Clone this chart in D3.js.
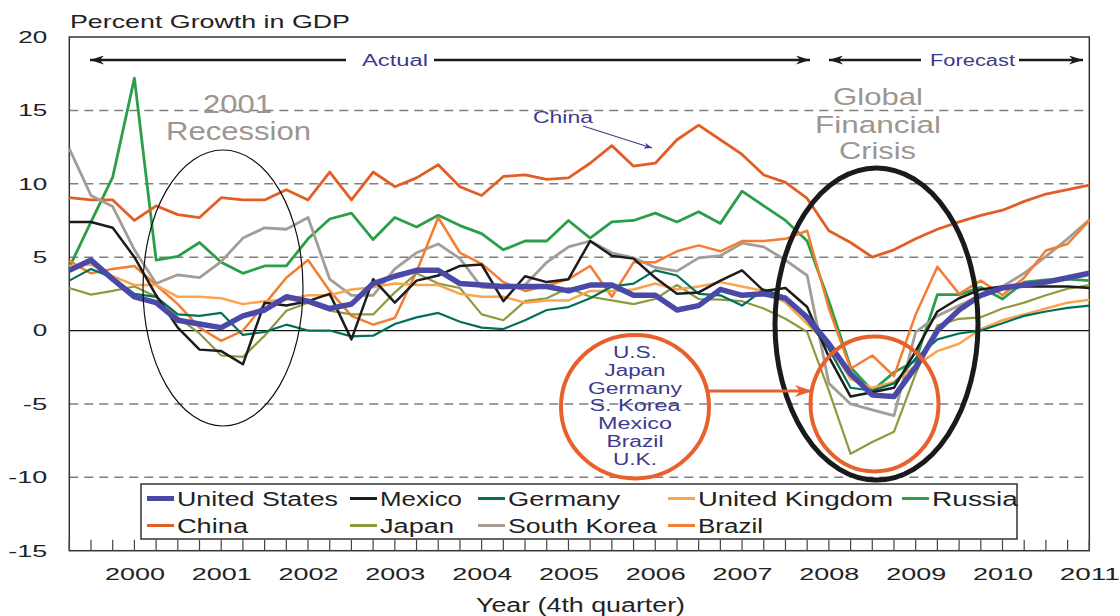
<!DOCTYPE html>
<html><head><meta charset="utf-8">
<script src="https://cdn.jsdelivr.net/npm/d3@7"></script>
<style>body{margin:0;background:#fff;} svg{display:block;font-family:"Liberation Sans",Arial,sans-serif;}</style>
</head><body><svg id="c" width="1120" height="616"></svg>
<script>
// ---------- data ----------
const years = ["2000","2001","2002","2003","2004","2005","2006","2007","2008","2009","2010","2011"];
const quarterNames = ["Q1","Q2","Q3","Q4"];
const quarters = years.flatMap(y => quarterNames.map(q => y + q));
const yTicks = [20,15,10,5,0,-5,-10,-15];
const seriesNames = ["United States","Mexico","Germany","United Kingdom","Russia","China","Japan","South Korea","Brazil"];

const unitedStates = [4.1,4.8,3.5,2.3,1.9,0.7,0.45,0.2,1.0,1.4,2.3,2.0,1.5,1.8,3.2,3.7,4.1,4.1,3.2,3.1,3.0,3.0,3.0,2.7,3.1,3.1,2.4,2.4,1.4,1.7,2.8,2.4,2.5,2.2,0.9,-0.9,-2.95,-4.4,-4.5,-2.5,0.0,1.4,2.4,2.9,3.1,3.3,3.6,3.9];
const mexico = [7.4,7.4,7.0,5.0,2.4,0.2,-1.3,-1.4,-2.3,1.9,1.7,2.0,2.5,-0.6,3.5,1.9,3.4,3.75,4.4,4.5,2.0,3.7,3.3,3.5,6.1,5.1,4.9,3.6,2.5,2.6,3.4,4.1,2.7,2.9,1.6,-1.8,-4.5,-4.2,-3.9,-1.4,1.3,2.2,2.8,3.0,3.0,3.0,3.0,2.9];
const germany = [3.4,4.2,3.6,2.5,2.3,1.1,1.0,1.2,-0.3,-0.1,0.4,0.0,0.0,-0.4,-0.35,0.45,0.9,1.2,0.6,0.2,0.1,0.7,1.4,1.6,2.2,3.0,3.2,4.1,3.75,2.5,2.4,1.7,2.8,2.3,0.7,-1.25,-3.9,-4.1,-3.6,-1.9,-0.6,-0.2,0.0,0.5,1.0,1.3,1.55,1.7];
const unitedKingdom = [4.4,4.5,3.7,3.1,3.1,2.3,2.3,2.2,1.8,2.0,2.1,2.4,2.4,2.8,2.95,3.2,3.1,3.1,2.5,2.3,2.3,1.9,2.05,2.05,2.7,2.7,2.8,3.2,2.8,3.0,3.3,3.0,2.7,1.9,0.45,-1.0,-3.3,-3.9,-3.5,-2.4,-1.4,-0.9,0.1,0.7,1.1,1.5,1.9,2.1];
const russia = [4.3,7.4,10.45,17.2,4.8,5.05,6.0,4.65,3.9,4.4,4.4,6.25,7.6,8.0,6.2,7.7,7.05,7.85,7.15,6.6,5.5,6.1,6.1,7.5,6.3,7.4,7.5,8.0,7.4,8.1,7.3,9.5,8.5,7.5,6.1,2.0,-2.5,-4.1,-2.85,-2.05,2.45,2.45,2.95,2.15,3.3,3.45,3.5,3.4];
const china = [9.05,8.9,8.9,7.5,8.5,7.9,7.7,9.05,8.9,8.9,9.6,8.9,10.8,8.9,10.8,9.8,10.4,11.3,9.8,9.2,10.5,10.6,10.3,10.4,11.4,12.6,11.2,11.4,13.0,14.0,13.0,12.0,10.6,10.1,9.0,6.8,6.0,5.0,5.5,6.25,6.9,7.4,7.85,8.2,8.8,9.3,9.6,9.9];
const japan = [2.9,2.45,2.7,3.0,2.3,0.9,-0.2,-1.7,-1.8,-0.35,1.35,1.9,1.35,1.1,1.1,2.6,3.9,3.2,2.9,1.1,0.7,2.0,2.2,2.9,2.3,2.05,1.8,2.15,3.1,2.15,2.1,2.0,1.5,0.8,-0.1,-4.1,-8.4,-7.6,-6.9,-2.95,0.35,0.8,0.9,1.5,1.9,2.4,2.85,3.1];
const southKorea = [12.4,9.2,8.45,5.5,3.2,3.8,3.6,4.7,6.3,7.0,6.9,7.7,3.5,2.4,2.4,4.2,5.3,5.9,4.9,2.95,2.9,3.1,4.65,5.7,6.1,5.3,4.95,4.3,4.05,4.95,5.1,5.95,5.7,4.8,3.75,-3.6,-5.0,-5.4,-5.8,-0.1,1.0,1.7,2.4,3.0,3.9,5.05,6.25,7.55];
const brazil = [4.75,3.9,4.2,4.4,3.1,1.8,0.2,-0.7,0.0,1.8,3.6,4.8,2.7,1.0,0.4,0.85,4.0,7.7,5.3,4.55,3.3,2.7,3.05,3.5,4.4,2.3,4.65,4.65,5.4,5.8,5.4,6.1,6.1,6.25,6.8,1.5,-2.6,-1.7,-3.1,1.1,4.35,2.5,3.4,2.4,3.6,5.45,5.9,7.5];

const seriesValues = [unitedStates, mexico, germany, unitedKingdom, russia, china, japan, southKorea, brazil];

// ---------- styles ----------
const colors = ["#4a49a8","#1c1c1c","#00705a","#fba44f","#2b9e48","#e25e26","#8f9a3f","#a59c96","#f47d32"];
const widths = [5.5,2.5,2.2,2.5,2.8,2.8,2.2,2.8,2.5];
const legendWidths = [5,3,3,3,3,3,3,3,3];
const drawOrder = [4,5,7,8,6,3,2,1,0];

const svg = d3.select("#c");
const L = 69.3, R = 1089.3, T = 37, B = 550.7;
const x = d3.scalePoint().domain(quarters).range([L, R]);
const y = d3.scaleLinear().domain([-15, 20]).range([B, T]);
const textCol = "#222";
const blueText = "#3c3a8e";
const grayText = "#9d958f";

function txt(s, tx, ty, size, width, color, anchor) {
  return svg.append("text").attr("x", tx).attr("y", ty).attr("font-size", size)
    .attr("fill", color).attr("text-anchor", anchor || "middle")
    .attr("textLength", width).attr("lengthAdjust", "spacingAndGlyphs").text(s);
}

// gridlines
svg.append("g").selectAll("line").data(yTicks.filter(v => v !== 0 && v !== 20 && v !== -15)).join("line")
  .attr("x1", L).attr("x2", R).attr("y1", d => y(d)).attr("y2", d => y(d))
  .attr("stroke", "#7f7f7f").attr("stroke-width", 1.5).attr("stroke-dasharray", "9,6");
svg.append("line").attr("x1", L).attr("x2", R).attr("y1", y(0)).attr("y2", y(0))
  .attr("stroke", "#111").attr("stroke-width", 1.2);

// frame
svg.append("rect").attr("x", L).attr("y", T).attr("width", R - L).attr("height", B - T)
  .attr("fill", "none").attr("stroke", "#333").attr("stroke-width", 1.5);

// quarter ticks
svg.append("g").selectAll("line").data(quarters).join("line")
  .attr("x1", d => x(d)).attr("x2", d => x(d)).attr("y1", B).attr("y2", B - 11)
  .attr("stroke", "#444").attr("stroke-width", 1.2);

// y axis labels
const yAx = svg.append("g").attr("transform", `translate(${L},0)`)
  .call(d3.axisLeft(y).tickValues(yTicks).tickFormat(d => String(d)).tickSize(0).tickPadding(22));
yAx.select(".domain").remove();
yAx.selectAll("text").attr("font-size", 17).attr("fill", textCol).attr("font-family", "Liberation Sans, Arial, sans-serif")
  .attr("textLength", d => { const s = String(d); return s.replace("-", "").length * 14.5 + (d < 0 ? 10 : 0); })
  .attr("lengthAdjust", "spacingAndGlyphs");

// x axis labels
const xAx = svg.append("g").attr("transform", `translate(0,${B})`)
  .call(d3.axisBottom(x).tickValues(quarters.filter(q => q.endsWith("Q4"))).tickFormat(q => q.slice(0, 4)).tickSize(0).tickPadding(17));
xAx.select(".domain").remove();
xAx.selectAll("text").attr("font-size", 17).attr("fill", textCol).attr("font-family", "Liberation Sans, Arial, sans-serif")
  .attr("textLength", 60).attr("lengthAdjust", "spacingAndGlyphs");

// series lines
const line = d3.line().x((d, i) => x(quarters[i])).y(d => y(d));
const gLines = svg.append("g").attr("fill", "none").attr("stroke-linejoin", "round");
drawOrder.forEach(k => {
  gLines.append("path").attr("d", line(seriesValues[k]))
    .attr("stroke", colors[k]).attr("stroke-width", widths[k]);
});

// titles
txt("Percent Growth in GDP", 70, 28, 18.6, 280, textCol, "start");
txt("Year (4th quarter)", 580.5, 612, 20, 209, textCol);

// arrow markers
const defs = svg.append("defs");
function marker(id, color, w, h) {
  defs.append("marker").attr("id", id).attr("viewBox", `0 0 ${w} ${h}`).attr("refX", w).attr("refY", h / 2)
    .attr("markerWidth", w).attr("markerHeight", h).attr("markerUnits", "userSpaceOnUse").attr("orient", "auto")
    .append("path").attr("d", `M0,0 L${w},${h/2} L0,${h} L${w*0.3},${h/2} Z`).attr("fill", color);
}
marker("ab", "#1a1a1a", 14, 9);
marker("ao", "#e8612c", 17, 12);
marker("ac", blueText, 8, 6);

function arrow(x1, y1, x2, y2, color, w, m) {
  svg.append("line").attr("x1", x1).attr("y1", y1).attr("x2", x2).attr("y2", y2)
    .attr("stroke", color).attr("stroke-width", w).attr("marker-end", `url(#${m})`);
}
// Actual
arrow(346, 60, 90, 60, "#1a1a1a", 2.5, "ab");
arrow(434, 60, 810, 60, "#1a1a1a", 2.5, "ab");
txt("Actual", 395, 65.8, 16, 66, blueText);
// Forecast
arrow(921, 60, 829, 60, "#1a1a1a", 2.5, "ab");
arrow(1019, 60, 1083, 60, "#1a1a1a", 2.5, "ab");
txt("Forecast", 972.5, 65.8, 16, 85, blueText);

// China label
txt("China", 563, 123, 16, 60, blueText);
arrow(583, 126, 652, 148, blueText, 1.2, "ac");

// 2001 Recession
svg.append("ellipse").attr("cx", 223).attr("cy", 288).attr("rx", 80).attr("ry", 138)
  .attr("fill", "none").attr("stroke", "#111").attr("stroke-width", 1.2);
txt("2001", 237.5, 113, 25, 69, grayText);
txt("Recession", 238.5, 140, 25, 145, grayText);

// Global Financial Crisis
svg.append("ellipse").attr("cx", 876.5).attr("cy", 324).attr("rx", 101.5).attr("ry", 156)
  .attr("fill", "none").attr("stroke", "#1a1a1a").attr("stroke-width", 5);
svg.append("ellipse").attr("cx", 874.5).attr("cy", 404).attr("rx", 64).attr("ry", 67.5)
  .attr("fill", "none").attr("stroke", "#e8612c").attr("stroke-width", 4);
txt("Global", 878, 105, 24.5, 90, grayText);
txt("Financial", 878, 133, 24.5, 126, grayText);
txt("Crisis", 877.5, 159, 24.5, 77, grayText);

// country circle
svg.append("ellipse").attr("cx", 635).attr("cy", 406.7).attr("rx", 74).attr("ry", 71.7)
  .attr("fill", "none").attr("stroke", "#e8612c").attr("stroke-width", 4);
arrow(709, 391, 812, 391, "#e8612c", 3, "ao");
const circleLines = ["U.S.","Japan","Germany","S. Korea","Mexico","Brazil","U.K."];
const circleWidths = [44, 61, 94, 91, 74, 57, 44];
circleLines.forEach((s, i) => txt(s, 635, 358 + i * 17.8, 16, circleWidths[i], blueText));

// legend
svg.append("rect").attr("x", 141).attr("y", 484).attr("width", 876).attr("height", 55)
  .attr("fill", "#fff").attr("stroke", "#333").attr("stroke-width", 1.5);
const legCols = [147, 350, 478, 668, 902];
const legTextW = [161, 82, 112, 195, 86, 71, 74, 149, 65];
seriesNames.forEach((name, k) => {
  const row = k < 5 ? 0 : 1, col = k < 5 ? k : k - 5;
  const lx = legCols[col], ly = row === 0 ? 498.5 : 525.5;
  svg.append("line").attr("x1", lx).attr("x2", lx + 27).attr("y1", ly).attr("y2", ly)
    .attr("stroke", colors[k]).attr("stroke-width", legendWidths[k]);
  txt(name, lx + 30, row === 0 ? 506 : 533, 20, legTextW[k], textCol, "start");
});
</script></body></html>
